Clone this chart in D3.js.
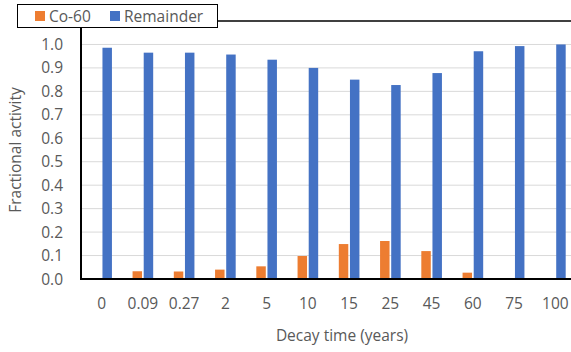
<!DOCTYPE html>
<html>
<head>
  <script src="https://d3js.org/d3.v7.min.js"></script>
  <style>
    body { margin: 0; background: #fff; }
    text { font-family: "Open Sans", sans-serif; fill: #595959; }
  </style>
</head>
<body>
  <script>
    const categories = ["0", "0.09", "0.27", "2", "5", "10", "15", "25", "45", "60", "75", "100"];
    const series = ["Co-60", "Remainder"];
    const co60 = [0.001, 0.033, 0.032, 0.040, 0.054, 0.098, 0.149, 0.162, 0.119, 0.027, 0.002, 0.001];
    const remainder = [0.986, 0.965, 0.965, 0.957, 0.935, 0.900, 0.850, 0.827, 0.878, 0.971, 0.993, 1.000];
    const yTicks = [0, 0.1, 0.2, 0.3, 0.4, 0.5, 0.6, 0.7, 0.8, 0.9, 1.0];
    const colors = ["#ED7D31", "#4472C4"];

    const width = 571;
    const height = 352;
    const margin = { top: 21, left: 81, bottom: 73 };
    const plotRight = 576;
    const fontSize = "15.5px";

    const svg = d3.select("body")
      .append("svg")
      .attr("width", width)
      .attr("height", height);

    const x0 = d3.scaleBand()
      .domain(categories)
      .range([margin.left, plotRight])
      .paddingInner(0.5)
      .paddingOuter(0.25);

    const x1 = d3.scaleBand()
      .domain(series)
      .range([0, x0.bandwidth()])
      .paddingInner(0.15);

    const y = d3.scaleLinear()
      .domain([0, 1.1])
      .range([height - margin.bottom, margin.top]);

    // gridlines
    svg.append("g")
      .selectAll("line")
      .data(yTicks.slice(1))
      .join("line")
      .attr("x1", margin.left)
      .attr("x2", plotRight)
      .attr("y1", d => y(d))
      .attr("y2", d => y(d))
      .attr("stroke", "#d9d9d9")
      .attr("stroke-width", 1);

    const rows = categories.map((c, i) => ({ cat: c, values: [co60[i], remainder[i]] }));

    const groups = svg.append("g")
      .selectAll("g")
      .data(rows)
      .join("g")
      .attr("transform", d => `translate(${x0(d.cat)},0)`);

    groups.selectAll("rect")
      .data(d => d.values.map((v, j) => ({ key: series[j], value: v, j })))
      .join("rect")
      .attr("x", d => x1(d.key))
      .attr("width", x1.bandwidth())
      .attr("y", d => y(d.value))
      .attr("height", d => y(0) - y(d.value))
      .attr("fill", d => colors[d.j]);

    // y tick labels
    svg.append("g")
      .selectAll("text")
      .data(yTicks)
      .join("text")
      .attr("x", 63)
      .attr("y", d => y(d))
      .attr("dy", "0.36em")
      .attr("text-anchor", "end")
      .attr("font-size", fontSize)
      .text(d => d3.format(".1f")(d));

    // x tick labels
    svg.append("g")
      .selectAll("text")
      .data(categories)
      .join("text")
      .attr("x", d => x0(d) + x0.bandwidth() / 2)
      .attr("y", 309)
      .attr("text-anchor", "middle")
      .attr("font-size", fontSize)
      .text(d => d);

    // axes and plot border
    svg.append("line")
      .attr("x1", margin.left).attr("x2", plotRight)
      .attr("y1", margin.top).attr("y2", margin.top)
      .attr("stroke", "#000").attr("stroke-width", 1.5);
    svg.append("line")
      .attr("x1", margin.left).attr("x2", margin.left)
      .attr("y1", margin.top).attr("y2", y(0) + 1)
      .attr("stroke", "#000").attr("stroke-width", 2);
    svg.append("line")
      .attr("x1", margin.left).attr("x2", plotRight)
      .attr("y1", y(0)).attr("y2", y(0))
      .attr("stroke", "#000").attr("stroke-width", 2);

    // axis titles
    svg.append("text")
      .attr("x", 342)
      .attr("y", 341)
      .attr("text-anchor", "middle")
      .attr("font-size", fontSize)
      .text("Decay time (years)");

    svg.append("text")
      .attr("transform", `translate(21,${(margin.top + y(0)) / 2}) rotate(-90)`)
      .attr("text-anchor", "middle")
      .attr("font-size", fontSize)
      .text("Fractional activity");

    // legend
    const legend = svg.append("g");
    legend.append("rect")
      .attr("x", 17.5).attr("y", 4.5)
      .attr("width", 200).attr("height", 23)
      .attr("fill", "#fff")
      .attr("stroke", "#000")
      .attr("stroke-width", 1);

    const legendX = [35, 110];
    series.forEach((s, i) => {
      legend.append("rect")
        .attr("x", legendX[i]).attr("y", 11)
        .attr("width", 10).attr("height", 10)
        .attr("fill", colors[i]);
      legend.append("text")
        .attr("x", legendX[i] + 14)
        .attr("y", 16)
        .attr("dy", "0.36em")
        .attr("font-size", fontSize)
        .text(s);
    });
  </script>
</body>
</html>
